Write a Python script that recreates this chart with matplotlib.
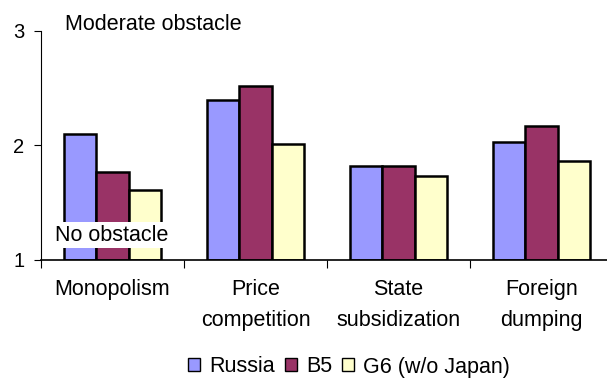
import numpy as np
import matplotlib.pyplot as plt
from matplotlib.patches import Patch

plt.rcParams['font.family'] = ['Liberation Sans', 'DejaVu Sans']

categories = ['Monopolism', 'Price\ncompetition', 'State\nsubsidization', 'Foreign\ndumping']
series = ['Russia', 'B5', 'G6 (w/o Japan)']
russia = [2.10, 2.40, 1.82, 2.03]
b5 = [1.77, 2.52, 1.82, 2.17]
g6 = [1.61, 2.01, 1.73, 1.86]
colors = ['#9999FF', '#993366', '#FFFFCC']

W, H = 607, 378
fig = plt.figure(figsize=(W / 100, H / 100), dpi=100)
# axes spans slightly past the right edge, like the original layout
ax = fig.add_axes([41 / W, 1 - 259.5 / H, 572 / W, 228.5 / H])

x = np.arange(len(categories))
width = 0.225
for i, (vals, c) in enumerate(zip([russia, b5, g6], colors)):
    ax.bar(x + (i - 1) * width, np.array(vals) - 1, width, bottom=1,
           color=c, edgecolor='black', linewidth=1.8, zorder=2)

ax.set_xlim(-0.5, len(categories) - 0.5)
ax.set_ylim(1, 3)
ax.set_yticks([1, 2, 3])
ax.tick_params(axis='y', labelsize=14.5, length=5, width=0.8, pad=7)

# category ticks sit between groups
ax.set_xticks(np.arange(len(categories) + 1) - 0.5)
ax.set_xticklabels([])
ax.tick_params(axis='x', length=6, width=0.8)
for xi, lab in zip(x, categories):
    ax.text(xi, -0.085, lab, transform=ax.get_xaxis_transform(), ha='center',
            va='top', fontsize=15.5, linespacing=1.62)

for s in ['top', 'right']:
    ax.spines[s].set_visible(False)
ax.spines['left'].set_linewidth(0.8)
ax.spines['bottom'].set_linewidth(1.2)

ax.text(65 / W, 1 - 25 / H, 'Moderate obstacle', transform=fig.transFigure,
        fontsize=15.5, va='center', ha='left')
ax.text(55 / W, 1 - 235 / H, 'No obstacle', transform=fig.transFigure,
        fontsize=15.5, va='center', ha='left', zorder=5,
        bbox=dict(facecolor='white', edgecolor='none', pad=1.5))

handles = [Patch(facecolor=c, edgecolor='black', linewidth=1.0) for c in colors]
fig.legend(handles, series, loc='center', bbox_to_anchor=(349 / W, 1 - 367 / H),
           ncol=3, frameon=False, fontsize=15.5, handlelength=0.56, handleheight=0.56,
           handletextpad=0.42, columnspacing=0.47, borderaxespad=0)

fig.savefig('out.png', dpi=100)
